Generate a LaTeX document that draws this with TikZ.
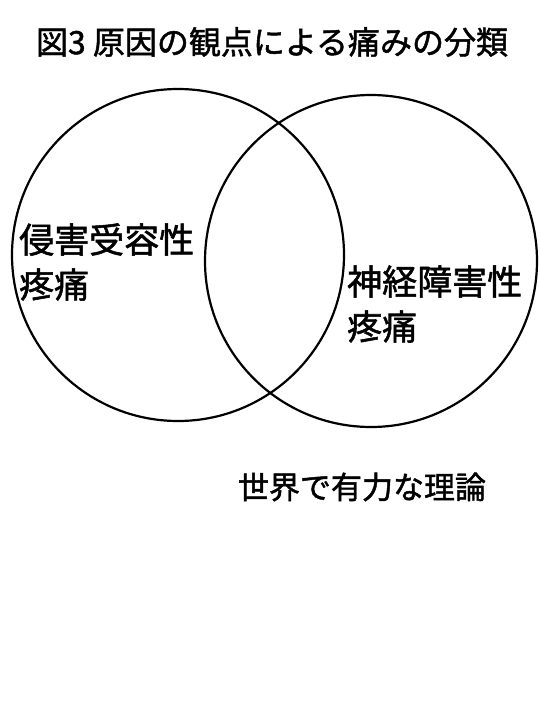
\documentclass[tikz,border=0pt]{standalone}
\usepackage{fontspec}
\setmainfont{Noto Sans CJK JP}[FakeBold=1.5, BoldFont={Noto Sans CJK JP}, BoldFeatures={FakeBold=1.5}]
\usepackage{tikz}
\usetikzlibrary{shapes,positioning}

\begin{document}
\begin{tikzpicture}[x=1pt, y=-1pt]

\tikzstyle{venn} = [circle, draw=black, line width=2.2pt, inner sep=0pt]
\tikzstyle{label} = [align=left, inner sep=0pt, text=black]

\useasboundingbox (0,0) rectangle (540,720);

\node (title) [inner sep=0pt, font=\fontsize{32}{36}\selectfont] at (272,42) {図3 原因の観点による痛みの分類};

\node (nociceptive) [venn, minimum size=332pt] at (178,255) {};
\node (neuropathic) [venn, minimum size=332pt] at (371,261) {};

\node (noci text) [label, anchor=west, font=\fontsize{35}{45}\selectfont] at (19,262) {侵害受容性\\疼痛};
\node (neuro text) [label, anchor=west, font=\fontsize{35}{45}\selectfont] at (347,304) {神経障害性\\疼痛};

\node (theory) [inner sep=0pt, font=\fontsize{31}{36}\selectfont] at (362,487) {世界で有力な理論};

\end{tikzpicture}
\end{document}
